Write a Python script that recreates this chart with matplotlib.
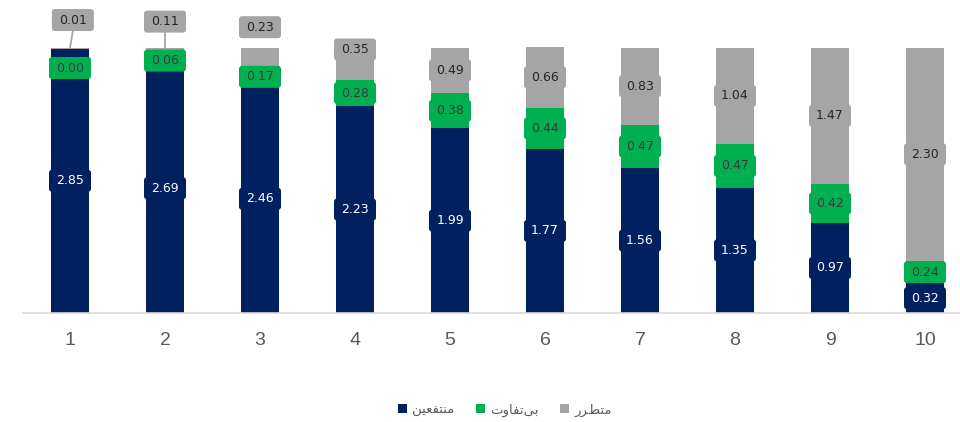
import matplotlib
matplotlib.use("Agg")
import matplotlib.pyplot as plt
from matplotlib.patches import FancyBboxPatch, Patch
from matplotlib.transforms import ScaledTranslation

# ---------------- data ----------------
categories = ["1", "2", "3", "4", "5", "6", "7", "8", "9", "10"]
series_names = ["منتفعین", "بی‌تفاوت", "متضرر"]
beneficiaries = [2.85, 2.69, 2.46, 2.23, 1.99, 1.77, 1.56, 1.35, 0.97, 0.32]
indifferent = [0.00, 0.06, 0.17, 0.28, 0.38, 0.44, 0.47, 0.47, 0.42, 0.24]
harmed = [0.01, 0.11, 0.23, 0.35, 0.49, 0.66, 0.83, 1.04, 1.47, 2.30]

# ---------------- styles ----------------
colors = ["#002060", "#00B050", "#A5A5A5"]
label_text_colors = ["white", "#3a3a3a", "#262626"]
# manual label nudges (data units) where labels were moved to avoid overlap
label_y_override = {2: {0: 3.157, 1: 3.14, 2: 3.08, 3: 2.84}, 1: {0: 2.64}}
label_x_offset = {2: {0: 0.03}}
leader_lines = {2: [0, 1]}

# ---------------- minimal Arabic/Persian shaping ----------------
FORMS = {
    "ا": ("\uFE8D", "\uFE8E", None, None),
    "ب": ("\uFE8F", "\uFE90", "\uFE91", "\uFE92"),
    "ت": ("\uFE95", "\uFE96", "\uFE97", "\uFE98"),
    "ض": ("\uFEBF", "\uFEC0", "\uFEC1", "\uFEC2"),
    "ع": ("\uFEC9", "\uFECA", "\uFECB", "\uFECC"),
    "ف": ("\uFED1", "\uFED2", "\uFED3", "\uFED4"),
    "م": ("\uFEE1", "\uFEE2", "\uFEE3", "\uFEE4"),
    "ن": ("\uFEE5", "\uFEE6", "\uFEE7", "\uFEE8"),
    "و": ("\uFEED", "\uFEEE", None, None),
    "ر": ("\uFEAD", "\uFEAE", None, None),
    "ی": ("\uFBFC", "\uFBFD", "\uFBFE", "\uFBFF"),
}


def shape(text):
    out = []
    n = len(text)
    for i, ch in enumerate(text):
        if ch not in FORMS:
            if ch != "\u200c":
                out.append(ch)
            continue
        f = FORMS[ch]
        dual = f[2] is not None
        prev = text[i - 1] if i > 0 else None
        nxt = text[i + 1] if i + 1 < n else None
        jp = prev in FORMS and FORMS[prev][2] is not None
        jn = dual and nxt in FORMS
        if jp and jn:
            out.append(f[3])
        elif jp:
            out.append(f[1])
        elif jn:
            out.append(f[2])
        else:
            out.append(f[0])
    return "".join(reversed(out))


# ---------------- figure ----------------
W, H, DPI = 960, 422, 100
fig = plt.figure(figsize=(W / DPI, H / DPI), dpi=DPI)
ax = fig.add_axes([22.5 / W, (H - 313) / H, 950 / W, 313 / H])

x = list(range(1, len(categories) + 1))
series = [beneficiaries, indifferent, harmed]
bottoms = [0.0] * len(x)
all_bottoms = []
for vals, col in zip(series, colors):
    ax.bar(x, vals, width=0.4, bottom=bottoms, color=col, linewidth=0)
    all_bottoms.append(list(bottoms))
    bottoms = [b + v for b, v in zip(bottoms, vals)]
totals = bottoms

ax.set_xlim(0.5, 10.5)
ax.set_ylim(0, 3.373)
ax.set_xticks(x)
ax.set_xticklabels(categories, fontsize=14, color="#595959", family="Liberation Sans")
ax.tick_params(axis="x", length=0, pad=14)
ax.set_yticks([])
for s in ["left", "right", "top"]:
    ax.spines[s].set_visible(False)
ax.spines["bottom"].set_color("#D9D9D9")
ax.spines["bottom"].set_linewidth(1.2)

bw, bh = 0.42, 0.22  # label box size in inches
units_per_inch = 3.373 / (313 / DPI)
for si, (vals, col, tcol) in enumerate(zip(series, colors, label_text_colors)):
    for i, v in enumerate(vals):
        cx = x[i] + label_x_offset.get(si, {}).get(i, 0.0)
        cy = label_y_override.get(si, {}).get(i, all_bottoms[si][i] + v / 2)
        if i in leader_lines.get(si, []):
            ax.plot([cx, x[i]], [cy - (bh / 2) * units_per_inch, totals[i] - 0.005],
                    color="#A5A5A5", lw=1.3, zorder=3, clip_on=False)
        tr = fig.dpi_scale_trans + ScaledTranslation(cx, cy, ax.transData)
        box = FancyBboxPatch((-bw / 2, -bh / 2), bw, bh,
                             boxstyle="round,pad=0,rounding_size=0.03",
                             facecolor=col, edgecolor="none", transform=tr,
                             zorder=4, clip_on=False)
        ax.add_patch(box)
        ax.text(cx, cy, f"{v:.2f}", ha="center", va="center", fontsize=9,
                color=tcol, zorder=5, family="DejaVu Sans", clip_on=False)

handles = [Patch(facecolor=c, edgecolor="none") for c in colors]
labels = [shape(s) for s in series_names]
fig.legend(handles, labels, loc="center", bbox_to_anchor=(505 / W, 1 - 410 / H),
           ncol=3, frameon=False, handlelength=0.7, handleheight=0.7,
           handletextpad=0.4, columnspacing=1.6,
           prop={"family": "DejaVu Sans", "size": 9.5}, labelcolor="#595959")

fig.savefig("out.png", dpi=DPI)
